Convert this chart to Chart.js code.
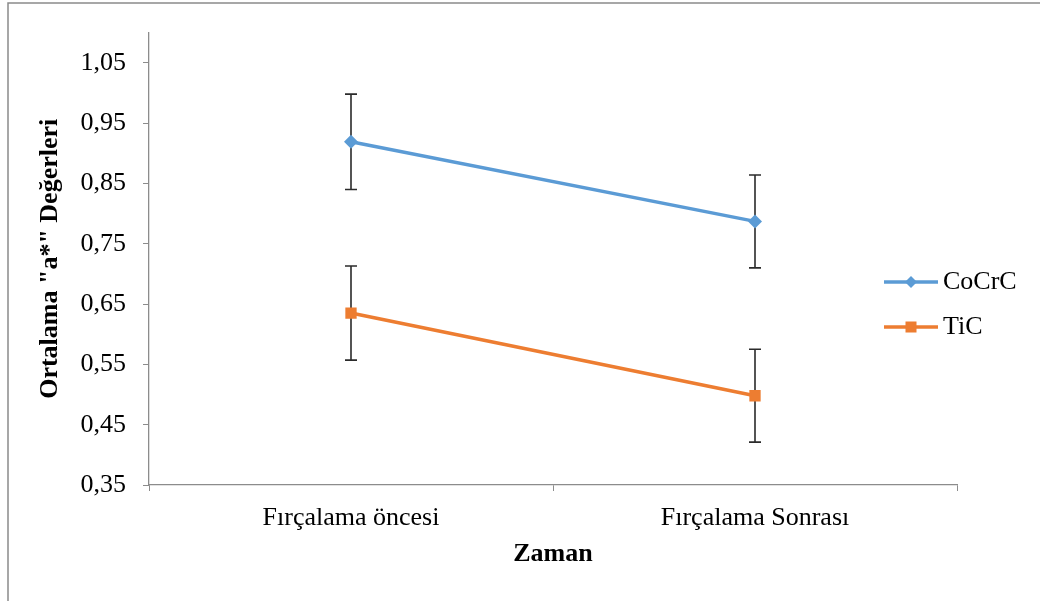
<!DOCTYPE html>
<html>
<head>
<meta charset="utf-8">
<script src="https://cdn.jsdelivr.net/npm/chart.js@4"></script>
<style>
  html, body { margin: 0; padding: 0; background: #fff; }
  canvas { display: block; }
</style>
</head>
<body>
<canvas id="chart" width="1040" height="601"></canvas>
<script>
const categories = ["Fırçalama öncesi", "Fırçalama Sonrası"];
const seriesNames = ["CoCrC", "TiC"];
const cocrcValues = [0.919, 0.787];
const cocrcErrors = [0.079, 0.077];
const ticValues = [0.635, 0.498];
const ticErrors = [0.078, 0.077];
const yTicks = [0.35, 0.45, 0.55, 0.65, 0.75, 0.85, 0.95, 1.05];

const FONT = "'Liberation Serif', 'Times New Roman', serif";
const BLUE = "#5B9BD5";
const ORANGE = "#ED7D31";
const AXIS = "#8c8c8c";

// outer frame of the chart object
const frame = {
  id: "frame",
  beforeDraw(chart) {
    const ctx = chart.ctx;
    ctx.save();
    ctx.strokeStyle = "#8a8a8a";
    ctx.lineWidth = 1.5;
    ctx.beginPath();
    ctx.moveTo(8, 601);
    ctx.lineTo(8, 3);
    ctx.lineTo(1040, 3);
    ctx.stroke();
    ctx.restore();
  }
};

// error bars under the markers
const errorBars = {
  id: "errorBars",
  beforeDatasetsDraw(chart) {
    const ctx = chart.ctx;
    const x = chart.scales.x, y = chart.scales.y;
    ctx.save();
    ctx.strokeStyle = "#2b2b2b";
    ctx.lineWidth = 1.6;
    chart.data.datasets.forEach(ds => {
      ds.data.forEach((v, i) => {
        const px = x.getPixelForValue(i);
        const top = y.getPixelForValue(v + ds.errors[i]);
        const bot = y.getPixelForValue(v - ds.errors[i]);
        ctx.beginPath();
        ctx.moveTo(px, top); ctx.lineTo(px, bot);
        ctx.moveTo(px - 6, top); ctx.lineTo(px + 6, top);
        ctx.moveTo(px - 6, bot); ctx.lineTo(px + 6, bot);
        ctx.stroke();
      });
    });
    ctx.restore();
  }
};

// legend on the right: line with marker + name
const sideLegend = {
  id: "sideLegend",
  afterDraw(chart) {
    const ctx = chart.ctx;
    ctx.save();
    chart.data.datasets.forEach((ds, i) => {
      const yy = 282 + i * 45;
      ctx.strokeStyle = ds.borderColor;
      ctx.lineWidth = 3.5;
      ctx.beginPath();
      ctx.moveTo(884, yy);
      ctx.lineTo(938, yy);
      ctx.stroke();
      ctx.fillStyle = ds.borderColor;
      if (ds.pointStyle === "rect") {
        ctx.fillRect(905.5, yy - 5.5, 11, 11);
      } else {
        ctx.beginPath();
        ctx.moveTo(911, yy - 6);
        ctx.lineTo(917, yy);
        ctx.lineTo(911, yy + 6);
        ctx.lineTo(905, yy);
        ctx.closePath();
        ctx.fill();
      }
      ctx.fillStyle = "#000";
      ctx.font = "26px " + FONT;
      ctx.textBaseline = "middle";
      ctx.fillText(ds.label, 943, yy);
    });
    ctx.restore();
  }
};

new Chart(document.getElementById("chart"), {
  type: "line",
  data: {
    labels: categories,
    datasets: [
      {
        label: seriesNames[0],
        data: cocrcValues,
        errors: cocrcErrors,
        borderColor: BLUE,
        backgroundColor: BLUE,
        borderWidth: 3.5,
        pointStyle: "rectRot",
        pointRadius: 7,
        pointBorderWidth: 0,
        tension: 0
      },
      {
        label: seriesNames[1],
        data: ticValues,
        errors: ticErrors,
        borderColor: ORANGE,
        backgroundColor: ORANGE,
        borderWidth: 3.5,
        pointStyle: "rect",
        pointRadius: 8,
        pointBorderWidth: 0,
        tension: 0
      }
    ]
  },
  options: {
    responsive: false,
    animation: false,
    layout: { padding: { left: 0, top: 32, right: 83, bottom: 0 } },
    plugins: {
      legend: { display: false },
      tooltip: { enabled: false }
    },
    scales: {
      x: {
        offset: true,
        grid: { offset: true, drawOnChartArea: false, color: AXIS, tickLength: 6 },
        border: { color: AXIS, width: 1.3 },
        ticks: { color: "#000", font: { family: FONT, size: 26 }, padding: 12, maxRotation: 0 },
        title: {
          display: true, text: "Zaman", color: "#000",
          font: { family: FONT, size: 26, weight: "bold" },
          padding: { top: 0, bottom: 31 }
        },
        afterFit(scale) { scale.height = 116; }
      },
      y: {
        min: 0.35,
        max: 1.1,
        grid: { drawOnChartArea: false, color: AXIS, tickLength: 6 },
        border: { color: AXIS, width: 1.3 },
        ticks: {
          color: "#000",
          font: { family: FONT, size: 26 },
          padding: 17,
          callback: v => v.toFixed(2).replace(".", ",")
        },
        afterBuildTicks(scale) { scale.ticks = yTicks.map(v => ({ value: v })); },
        title: {
          display: true, text: "Ortalama \"a*\" Değerleri", color: "#000",
          font: { family: FONT, size: 26, weight: "bold" },
          padding: { top: 35, bottom: 0 }
        },
        afterFit(scale) { scale.width = 149; }
      }
    }
  },
  plugins: [frame, errorBars, sideLegend]
});
</script>
</body>
</html>
